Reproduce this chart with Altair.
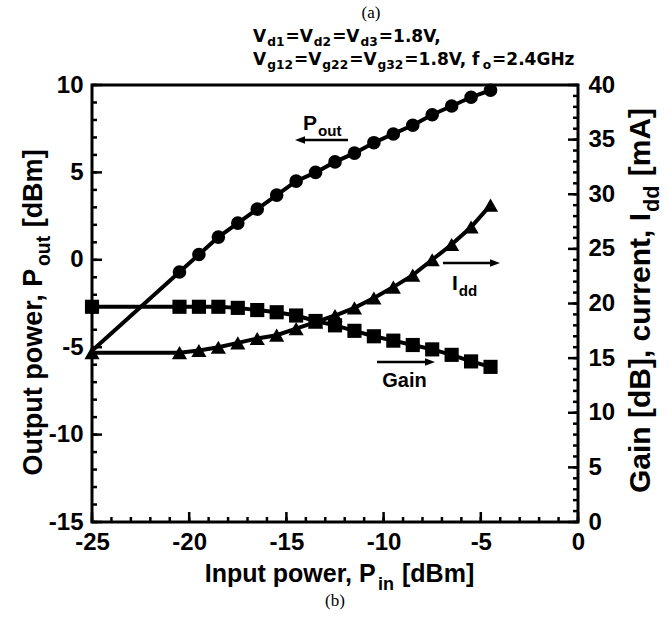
import altair as alt
import pandas as pd

# ---------------- data ----------------
pin_start = -25.0
pin = [-20.5, -19.5, -18.5, -17.5, -16.5, -15.5, -14.5, -13.5, -12.5,
       -11.5, -10.5, -9.5, -8.5, -7.5, -6.5, -5.5, -4.5]
pout_start = -5.2
pout = [-0.7, 0.3, 1.3, 2.1, 2.9, 3.7, 4.5, 5.0, 5.6, 6.1, 6.7, 7.2, 7.7,
        8.3, 8.8, 9.3, 9.7]
gain_start = 19.7
gain = [19.7, 19.7, 19.7, 19.6, 19.4, 19.2, 18.9, 18.4, 18.0, 17.5, 17.0,
        16.6, 16.2, 15.8, 15.3, 14.7, 14.2]
idd_start = 15.5
idd = [15.5, 15.7, 16.0, 16.4, 16.8, 17.1, 17.7, 18.3, 18.9, 19.6, 20.5,
       21.5, 22.6, 24.0, 25.4, 27.0, 29.0]

x_major = [-25, -20, -15, -10, -5, 0]
x_minor = list(range(-25, 1))
yl_major = [-15, -10, -5, 0, 5, 10]
yl_minor = list(range(-15, 11))
yr_major = [0, 5, 10, 15, 20, 25, 30, 35, 40]
yr_minor = list(range(0, 41))

# ---------------- layout ----------------
W, H = 486, 437
OX, OY = 92, 85
LBL = "Liberation Sans"
TTL = "DejaVu Sans"

one = pd.DataFrame({"k": [0]})

AW = {" ": .278, ",": .278, "-": .333, ".": .278, "=": .584, "[": .333, "]": .333,
      "A": .722, "B": .722, "G": .778, "H": .722, "I": .278, "O": .778, "P": .667,
      "V": .667, "a": .556, "c": .556, "d": .611, "e": .556, "f": .333, "g": .611,
      "i": .278, "m": .889, "n": .611, "o": .611, "p": .611, "r": .389, "t": .333,
      "u": .611, "w": .778, "z": .5}
DW = {" ": .348, ",": .380, "-": .415, ".": .380, "=": .838, "[": .457, "]": .457,
      "A": .774, "B": .762, "G": .821, "H": .837, "I": .372, "O": .850, "P": .733,
      "V": .774, "a": .675, "c": .593, "d": .716, "e": .678, "f": .435, "g": .716,
      "i": .343, "m": 1.042, "n": .712, "o": .687, "p": .716, "r": .493, "t": .478,
      "u": .712, "w": .924, "z": .593}


def tw(s, table):
    dig = 0.556 if table is AW else 0.696
    return sum(dig if c.isdigit() else table.get(c, 0.6) for c in s)


def rich(segs, x, y, size, font, table, anchor="middle", angle=0, sub=0.72, shift=0.3,
         gap=1.0):
    """segs: list of (text, is_sub). x,y in page pixels (baseline)."""
    total = sum(tw(t, table) * size * (sub if s else 1) + gap for t, s in segs)
    pos = -total / 2 if anchor == "middle" else 0
    out = []
    for t, s in segs:
        fs = size * (sub if s else 1)
        off = size * shift if s else 0
        lead = len(t) - len(t.lstrip(" "))
        pos += tw(" " * lead, table) * fs
        t2 = t.lstrip(" ")
        if angle == 0:
            px, py = x + pos, y + off
        else:
            px, py = x + off, y - pos
        out.append(
            alt.Chart(one).mark_text(text=t2, font=font, fontWeight="bold", fontSize=fs,
                                     align="left", baseline="alphabetic", angle=angle,
                                     color="black")
            .encode(x=alt.value(px - OX), y=alt.value(py - OY)))
        pos += tw(t2, table) * fs + gap
    return out


def plain(t, x, y, size, font, weight="normal"):
    return alt.Chart(one).mark_text(text=t, font=font, fontSize=size, fontWeight=weight,
                                    align="center", baseline="middle", color="black"
                                    ).encode(x=alt.value(x - OX), y=alt.value(y - OY))


def arrow(x1, x2, y):
    """horizontal arrow in page pixels, head at x2"""
    right = x2 > x1
    shape = "M1,0L-1,-0.75L-1,0.75Z" if right else "M-1,0L1,-0.75L1,0.75Z"
    cx = x2 - 5 if right else x2 + 5
    ln = alt.Chart(one).mark_rule(color="black", strokeWidth=2.5).encode(
        x=alt.value(x1 - OX), x2=alt.value(cx - OX), y=alt.value(y - OY))
    hd = alt.Chart(one).mark_point(shape=shape, filled=True, opacity=1, color="black",
                                   size=100, strokeWidth=0).encode(
        x=alt.value(cx - OX), y=alt.value(y - OY))
    return [ln, hd]


xscale = alt.Scale(domain=[-25, 0], nice=False, zero=False)
lscale = alt.Scale(domain=[-15, 10], nice=False, zero=False)
rscale = alt.Scale(domain=[0, 40], nice=False)

common = dict(ticks=False, domain=False, grid=False, labelFont=LBL, labelFontWeight="bold",
              labelFontSize=24, labelColor="black", labelOverlap=False, labelFlush=False,
              labelExpr="'' + datum.value", title=None)
xaxis = alt.Axis(orient="bottom", values=x_major, labelPadding=8, **common)
laxis = alt.Axis(orient="left", values=yl_major, labelPadding=9, **common)
raxis = alt.Axis(orient="right", values=yr_major, labelPadding=10, **common)


def X():
    return alt.X("pin:Q", scale=xscale, axis=xaxis)


def YL():
    return alt.Y("v:Q", scale=lscale, axis=laxis)


def YR():
    return alt.Y("r:Q", scale=rscale, axis=raxis)


TICKW = 2.5
LW = 4

# ---------------- left-scale layer ----------------
pout_line = alt.Chart(pd.DataFrame({"pin": [pin_start] + pin, "v": [pout_start] + pout})
                      ).mark_line(color="black", strokeWidth=LW).encode(x=X(), y=YL())
pout_pts = alt.Chart(pd.DataFrame({"pin": pin, "v": pout})).mark_point(
    shape="circle", filled=True, opacity=1, color="black", size=185).encode(x=X(), y=YL())

xt_minor = alt.Chart(pd.DataFrame({"pin": x_minor})).mark_rule(
    color="black", strokeWidth=TICKW).encode(x=X(), y=alt.value(H), y2=alt.value(H - 5))
xt_major = alt.Chart(pd.DataFrame({"pin": x_major})).mark_rule(
    color="black", strokeWidth=TICKW).encode(x=X(), y=alt.value(H), y2=alt.value(H - 10))
lt_minor = alt.Chart(pd.DataFrame({"v": yl_minor})).mark_rule(
    color="black", strokeWidth=TICKW).encode(y=YL(), x=alt.value(0), x2=alt.value(5))
lt_major = alt.Chart(pd.DataFrame({"v": yl_major})).mark_rule(
    color="black", strokeWidth=TICKW).encode(y=YL(), x=alt.value(0), x2=alt.value(10))

annots = []
annots += rich([("P", False), ("out", True)], 303, 130, 21, LBL, AW, anchor="left")
annots += arrow(348, 295, 140)
annots += rich([("I", False), ("dd", True)], 452, 290, 21, LBL, AW, anchor="left")
annots += arrow(443, 500, 263)
annots += rich([("Gain", False)], 405, 387, 20, LBL, AW)
annots += arrow(377, 435, 362)

# axis titles
annots += rich([("Input power, P", False), ("in", True), (" [dBm]", False)],
               340, 582, 25, LBL, AW)
annots += rich([("Output power, P", False), ("out", True), (" [dBm]", False)],
               42, 312, 27, LBL, AW, angle=270)
annots += rich([("Gain [dB], current, I", False), ("dd", True), (" [mA]", False)],
               650, 300, 30, LBL, AW, angle=270)

# header
annots += rich([("V", False), ("d1", True), ("=V", False), ("d2", True), ("=V", False),
                ("d3", True), ("=1.8V,", False)], 253, 42, 17, TTL, DW, anchor="left",
               shift=0.22)
annots += rich([("V", False), ("g12", True), ("=V", False), ("g22", True), ("=V", False),
                ("g32", True), ("=1.8V, f", False), ("o", True), ("=2.4GHz", False)],
               253, 65, 17, TTL, DW, anchor="left", shift=0.22)
annots.append(plain("(a)", 371, 13, 17, "Liberation Serif"))
annots.append(plain("(b)", 335, 601, 17, "Liberation Serif"))

left_layer = alt.layer(pout_line, pout_pts, xt_minor, xt_major, lt_minor, lt_major, *annots)

# ---------------- right-scale layer ----------------
gain_df = pd.DataFrame({"pin": [pin_start] + pin, "r": [gain_start] + gain})
idd_df = pd.DataFrame({"pin": [pin_start] + pin, "r": [idd_start] + idd})
gain_line = alt.Chart(gain_df).mark_line(color="black", strokeWidth=LW).encode(x=X(), y=YR())
gain_pts = alt.Chart(gain_df).mark_point(shape="square", filled=True, opacity=1,
                                         color="black", size=200).encode(x=X(), y=YR())
idd_line = alt.Chart(idd_df).mark_line(color="black", strokeWidth=LW).encode(x=X(), y=YR())
idd_pts = alt.Chart(idd_df).mark_point(shape="triangle-up", filled=True, opacity=1,
                                       color="black", size=230).encode(x=X(), y=YR())
rt_minor = alt.Chart(pd.DataFrame({"r": yr_minor})).mark_rule(
    color="black", strokeWidth=TICKW).encode(y=YR(), x=alt.value(W), x2=alt.value(W - 5))
rt_major = alt.Chart(pd.DataFrame({"r": yr_major})).mark_rule(
    color="black", strokeWidth=TICKW).encode(y=YR(), x=alt.value(W), x2=alt.value(W - 10))

right_layer = alt.layer(gain_line, idd_line, gain_pts, idd_pts, rt_minor, rt_major)

chart = (
    alt.layer(left_layer, right_layer)
    .resolve_scale(y="independent")
    .properties(width=W, height=H, autosize=alt.AutoSizeParams(type="none"),
                padding={"left": OX, "top": OY, "right": 669 - OX - W,
                         "bottom": 623 - OY - H},
                background="white")
    .configure_view(stroke="black", strokeWidth=3)
)

chart.save("out.html", embed_options={"renderer": "svg", "actions": False})
